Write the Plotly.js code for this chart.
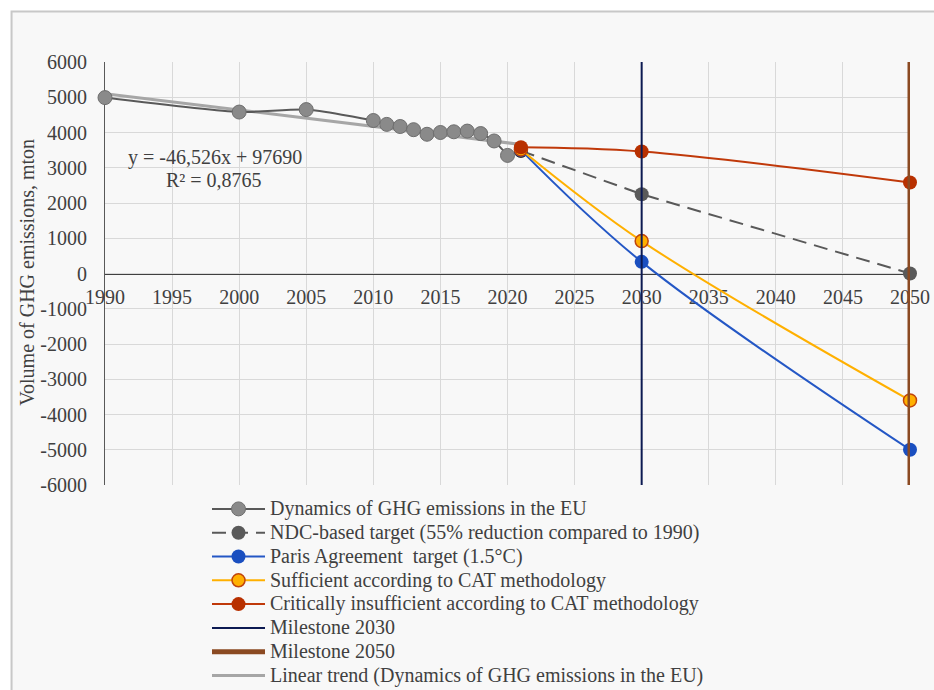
<!DOCTYPE html>
<html>
<head>
<meta charset="utf-8">
<script src="https://cdn.plot.ly/plotly-3.0.1.min.js"></script>
<style>
html, body { margin: 0; padding: 0; background: #ffffff; }
#chart { width: 934px; height: 690px; }
</style>
</head>
<body>
<div id="chart"></div>
<script>
// ---- data ----
const histYears  = [1990, 2000, 2005, 2010, 2011, 2012, 2013, 2014, 2015, 2016, 2017, 2018, 2019, 2020];
const histValues = [4990, 4580, 4650, 4340, 4230, 4170, 4080, 3950, 4000, 4020, 4040, 3970, 3760, 3350];

const scenarioYears    = [2021, 2030, 2050];
const ndcValues        = [3480, 2250, 0];
const parisValues      = [3500, 330, -5000];
const sufficientValues = [3520, 920, -3600];
const criticalValues   = [3580, 3460, 2580];

const trendYears  = [1990, 2021];
const trendValues = [5103, 3661];

const milestone2030Years = [2030, 2030];
const milestone2050Years = [2050, 2050];
const milestoneSpan      = [-6000, 6000];

const xTickVals = [1990, 1995, 2000, 2005, 2010, 2015, 2020, 2025, 2030, 2035, 2040, 2045, 2050];
const yTickVals = [-6000, -5000, -4000, -3000, -2000, -1000, 0, 1000, 2000, 3000, 4000, 5000, 6000];

const seriesNames = [
  'Dynamics of GHG emissions in the EU',
  'NDC-based target (55% reduction compared to 1990)',
  'Paris Agreement  target (1.5°C)',
  'Sufficient according to CAT methodology',
  'Critically insufficient according to CAT methodology',
  'Milestone 2030',
  'Milestone 2050',
  'Linear trend (Dynamics of GHG emissions in the EU)'
];
const trendLabel = 'y = -46,526x + 97690';
const r2Label = 'R² = 0,8765';
const yTitle = 'Volume of GHG emissions, mton';

// ---- styling ----
const FONT = 'Liberation Serif, Times New Roman, serif';
const TXT = '#404040';
const nm = s => '<span style="font-size:20px">' + s + '</span>';

const traces = [
  { // trend drawn first (behind)
    x: trendYears, y: trendValues, type: 'scatter', mode: 'lines',
    name: nm(seriesNames[7]), legendrank: 2000,
    line: { color: '#a6a6a6', width: 3 }, hoverinfo: 'skip'
  },
  {
    x: histYears, y: histValues, type: 'scatter', mode: 'lines+markers',
    name: nm(seriesNames[0]), legendrank: 1,
    line: { color: '#595959', width: 2, shape: 'spline', smoothing: 0.6 },
    marker: { size: 14, color: '#8a8a8a', line: { color: '#6e6e6e', width: 1 } },
    cliponaxis: false
  },
  {
    x: scenarioYears, y: ndcValues, type: 'scatter', mode: 'lines+markers',
    name: nm(seriesNames[1]), legendrank: 2,
    line: { color: '#595959', width: 2, dash: '14px,8px' },
    marker: { size: 14, color: '#5a5a5a' },
    cliponaxis: false
  },
  { // darker start point of the NDC path (as in the reference)
    x: scenarioYears.slice(0, 1), y: ndcValues.slice(0, 1), type: 'scatter', mode: 'markers',
    showlegend: false, marker: { size: 14, color: '#1e1e1e' }, cliponaxis: false, hoverinfo: 'skip'
  },
  {
    x: scenarioYears, y: parisValues, type: 'scatter', mode: 'lines+markers',
    name: nm(seriesNames[2]), legendrank: 3,
    line: { color: '#2457c5', width: 2, shape: 'spline', smoothing: 1 },
    marker: { size: 14, color: '#1a4fc0' },
    cliponaxis: false
  },
  {
    x: scenarioYears, y: sufficientValues, type: 'scatter', mode: 'lines+markers',
    name: nm(seriesNames[3]), legendrank: 4,
    line: { color: '#ffb000', width: 2, shape: 'spline', smoothing: 1 },
    marker: { size: 13, color: '#ffb000', line: { color: '#c0440c', width: 1.5 } },
    cliponaxis: false
  },
  {
    x: scenarioYears, y: criticalValues, type: 'scatter', mode: 'lines+markers',
    name: nm(seriesNames[4]), legendrank: 5,
    line: { color: '#c0390a', width: 2, shape: 'spline', smoothing: 1 },
    marker: { size: 14, color: '#b83000' },
    cliponaxis: false
  },
  {
    x: milestone2030Years, y: milestoneSpan, type: 'scatter', mode: 'lines',
    name: nm(seriesNames[5]), legendrank: 6,
    line: { color: '#0c1a52', width: 2 }, hoverinfo: 'skip'
  },
  {
    x: milestone2050Years, y: milestoneSpan, type: 'scatter', mode: 'lines',
    name: nm(seriesNames[6]), legendrank: 7,
    line: { color: '#8b4a22', width: 5 }, hoverinfo: 'skip', cliponaxis: true
  }
];

const L = 104.5, R = 910, T = 61.5, B = 485, W = 934, H = 690;
const pw = R - L, ph = B - T;
const px2x = p => (p - L) / pw;
const px2y = p => (B - p) / ph;

const layout = {
  width: W, height: H,
  margin: { l: L, r: W - R, t: T, b: H - B, autoexpand: false },
  paper_bgcolor: '#ffffff',
  plot_bgcolor: 'rgba(0,0,0,0)',
  font: { family: FONT, size: 20, color: TXT },
  showlegend: true,
  legend: {
    xref: 'container', yref: 'container',
    x: 207 / W, y: 1 - 492 / H, xanchor: 'left', yanchor: 'top',
    font: { family: FONT, size: 16, color: TXT },
    itemwidth: 53, tracegroupgap: 0, bgcolor: 'rgba(0,0,0,0)',
    traceorder: 'normal'
  },
  xaxis: {
    range: [1990, 2050], tickvals: xTickVals, ticktext: xTickVals.map(String),
    showgrid: true, gridcolor: '#d9d9d9', gridwidth: 1,
    showline: true, linecolor: '#404040', linewidth: 1,
    anchor: 'free', position: 0.5, zeroline: false,
    ticks: '', ticklabelstandoff: 5, layer: 'below traces',
    tickfont: { family: FONT, size: 20, color: TXT }
  },
  yaxis: {
    range: [-6000, 6000], tickvals: yTickVals, ticktext: yTickVals.map(String),
    showgrid: true, gridcolor: '#d9d9d9', gridwidth: 1,
    showline: true, linecolor: '#595959', linewidth: 1, zeroline: false,
    ticks: '', ticklabelstandoff: 13, layer: 'below traces',
    tickfont: { family: FONT, size: 20, color: TXT }
  },
  shapes: [{
    type: 'rect', xref: 'paper', yref: 'paper', layer: 'below',
    x0: px2x(11), x1: px2x(950), y0: px2y(700), y1: px2y(11),
    fillcolor: '#f8f8f8', line: { color: '#c8c8c8', width: 2 }
  }],
  annotations: [
    { xref: 'paper', yref: 'paper', x: px2x(215), y: px2y(157), text: trendLabel,
      showarrow: false, xanchor: 'center', yanchor: 'middle',
      font: { family: FONT, size: 20, color: TXT } },
    { xref: 'paper', yref: 'paper', x: px2x(214), y: px2y(180), text: r2Label,
      showarrow: false, xanchor: 'center', yanchor: 'middle',
      font: { family: FONT, size: 20, color: TXT } },
    { xref: 'paper', yref: 'paper', x: px2x(27), y: px2y(272), text: yTitle,
      textangle: -90, showarrow: false, xanchor: 'center', yanchor: 'middle',
      font: { family: FONT, size: 20, color: TXT } }
  ]
};

Plotly.newPlot('chart', traces, layout, { displayModeBar: false, staticPlot: true });
</script>
</body>
</html>
